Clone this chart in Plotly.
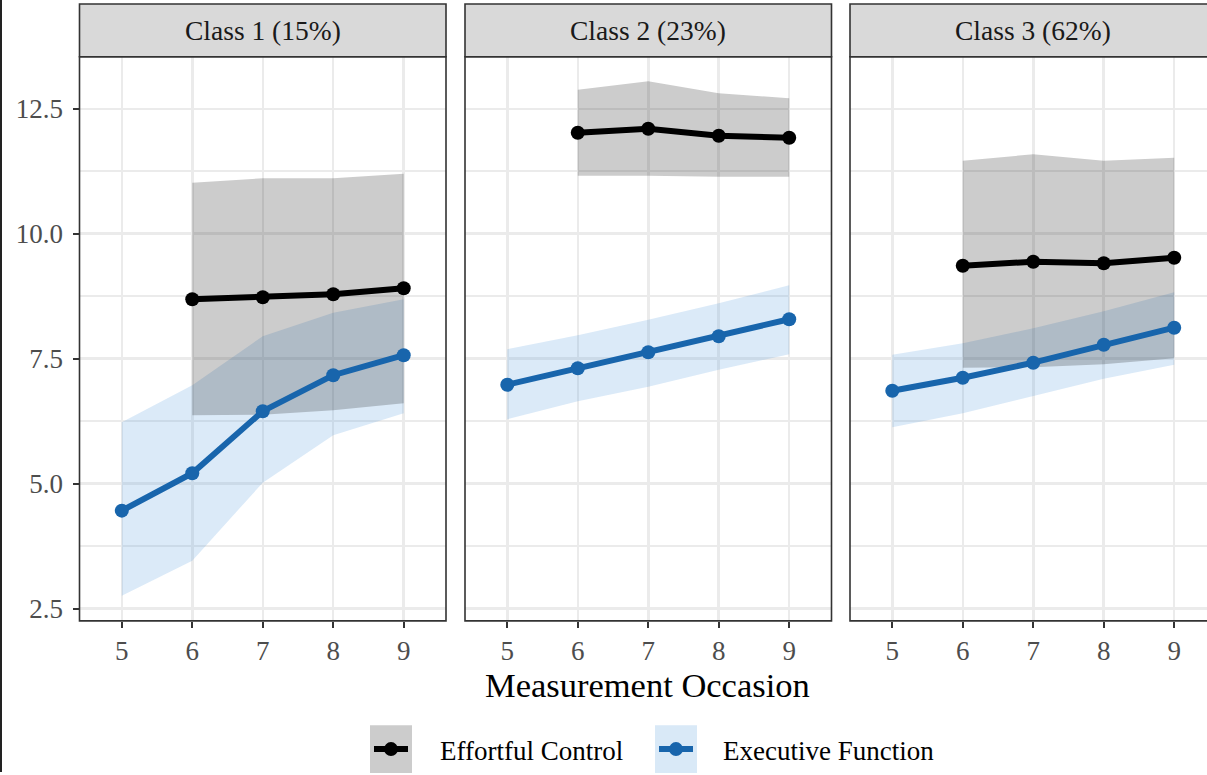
import plotly.graph_objects as go

# ---------------- data ----------------
occasions = [5, 6, 7, 8, 9]
ec_occasions = [6, 7, 8, 9]
classes = ["Class 1 (15%)", "Class 2 (23%)", "Class 3 (62%)"]
y_tick_vals = [2.5, 5.0, 7.5, 10.0, 12.5]
y_tick_text = ["2.5", "5.0", "7.5", "10.0", "12.5"]
x_tick_vals = [5, 6, 7, 8, 9]
series_names = ["Effortful Control", "Executive Function"]

# Effortful Control (occasions 6-9)
ec_mean_c1 = [8.69, 8.73, 8.79, 8.91]
ec_low_c1 = [6.37, 6.38, 6.47, 6.61]
ec_up_c1 = [11.02, 11.11, 11.11, 11.20]

ec_mean_c2 = [12.02, 12.10, 11.96, 11.92]
ec_low_c2 = [11.16, 11.16, 11.14, 11.14]
ec_up_c2 = [12.88, 13.05, 12.81, 12.71]

ec_mean_c3 = [9.36, 9.44, 9.41, 9.52]
ec_low_c3 = [7.32, 7.33, 7.39, 7.51]
ec_up_c3 = [11.46, 11.59, 11.46, 11.52]

# Executive Function (occasions 5-9)
ef_mean_c1 = [4.46, 5.21, 6.45, 7.17, 7.57]
ef_low_c1 = [2.76, 3.46, 5.02, 5.97, 6.41]
ef_up_c1 = [6.23, 6.97, 7.95, 8.42, 8.69]

ef_mean_c2 = [6.98, 7.31, 7.63, 7.95, 8.29]
ef_low_c2 = [6.29, 6.65, 6.94, 7.28, 7.59]
ef_up_c2 = [7.69, 7.97, 8.28, 8.61, 8.97]

ef_mean_c3 = [6.86, 7.12, 7.42, 7.78, 8.12]
ef_low_c3 = [6.13, 6.41, 6.75, 7.10, 7.38]
ef_up_c3 = [7.58, 7.81, 8.11, 8.45, 8.83]

ec_mean = [ec_mean_c1, ec_mean_c2, ec_mean_c3]
ec_low = [ec_low_c1, ec_low_c2, ec_low_c3]
ec_up = [ec_up_c1, ec_up_c2, ec_up_c3]
ef_mean = [ef_mean_c1, ef_mean_c2, ef_mean_c3]
ef_low = [ef_low_c1, ef_low_c2, ef_low_c3]
ef_up = [ef_up_c1, ef_up_c2, ef_up_c3]

# ---------------- styling ----------------
W, H = 1207, 775
FONT = "Liberation Serif"
EC_LINE = "#000000"
EF_LINE = "#1865AC"
EC_FILL = "rgba(0,0,0,0.2)"
EF_FILL = "rgba(76,152,218,0.2)"
GRID = "#EBEBEB"
BORDER = "#333333"


def fx(p):
    return p / W


def fy(p):
    return 1 - p / H


panel_px = [(79.5, 446.0), (465.0, 831.5), (850.0, 1207.0)]
px_per_unit = (446.0 - 79.5) / 5.2
x_ranges = [[4.4, 9.6], [4.4, 9.6], [4.4, 4.4 + (1207.0 - 850.0) / px_per_unit]]
panel_top, panel_bot = 57.0, 623.3
y_range = [2.255, 13.54]

fig = go.Figure()

for i in range(3):
    xa = "x" if i == 0 else f"x{i+1}"
    ya = "y" if i == 0 else f"y{i+1}"
    # ribbons
    fig.add_trace(go.Scatter(
        x=occasions + occasions[::-1], y=ef_up[i] + ef_low[i][::-1],
        fill="toself", fillcolor=EF_FILL, line=dict(width=0), mode="lines",
        hoverinfo="skip", showlegend=False, xaxis=xa, yaxis=ya))
    fig.add_trace(go.Scatter(
        x=ec_occasions + ec_occasions[::-1], y=ec_up[i] + ec_low[i][::-1],
        fill="toself", fillcolor=EC_FILL, line=dict(width=0), mode="lines",
        hoverinfo="skip", showlegend=False, xaxis=xa, yaxis=ya))
    # lines
    fig.add_trace(go.Scatter(
        x=ec_occasions, y=ec_mean[i], mode="lines+markers",
        line=dict(color=EC_LINE, width=6), marker=dict(color=EC_LINE, size=14),
        name=series_names[0], showlegend=False, xaxis=xa, yaxis=ya))
    fig.add_trace(go.Scatter(
        x=occasions, y=ef_mean[i], mode="lines+markers",
        line=dict(color=EF_LINE, width=6), marker=dict(color=EF_LINE, size=14),
        name=series_names[1], showlegend=False, xaxis=xa, yaxis=ya))

layout = dict(
    width=W, height=H, autosize=False,
    margin=dict(l=0, r=0, t=0, b=0),
    paper_bgcolor="white", plot_bgcolor="white",
    showlegend=False,
    font=dict(family=FONT, color="#4D4D4D"),
)

for i in range(3):
    sfx = "" if i == 0 else str(i + 1)
    x0, x1 = panel_px[i]
    layout["xaxis" + sfx] = dict(
        domain=[fx(x0), fx(x1)], range=x_ranges[i], anchor="y" + sfx,
        tickvals=x_tick_vals, ticks="outside", ticklen=6, tickwidth=2,
        tickcolor=BORDER, tickfont=dict(size=27, color="#4D4D4D", family=FONT),
        showgrid=True, gridcolor=GRID, gridwidth=2.5, zeroline=False,
        showline=False, fixedrange=True)
    layout["yaxis" + sfx] = dict(
        domain=[fy(panel_bot), fy(panel_top)], range=y_range, anchor="x" + sfx,
        tickvals=y_tick_vals, ticktext=y_tick_text,
        ticks="outside" if i == 0 else "", ticklen=6, tickwidth=2,
        tickcolor=BORDER, showticklabels=(i == 0), ticklabelstandoff=4,
        tickfont=dict(size=27, color="#4D4D4D", family=FONT),
        showgrid=True, gridcolor=GRID, gridwidth=2.5, zeroline=False,
        minor=dict(dtick=1.25, tick0=0, showgrid=True, gridcolor=GRID, gridwidth=1.6),
        showline=False, fixedrange=True)

shapes = []
annotations = []
for i in range(3):
    x0, x1 = panel_px[i]
    x1s = x1 if i < 2 else 1216.0
    # strip
    shapes.append(dict(type="rect", xref="paper", yref="paper",
                       x0=fx(x0), x1=fx(x1s), y0=fy(57.0), y1=fy(4.0),
                       fillcolor="#D9D9D9", line=dict(color=BORDER, width=1.6),
                       layer="above"))
    # panel border
    shapes.append(dict(type="rect", xref="paper", yref="paper",
                       x0=fx(x0), x1=fx(x1s), y0=fy(panel_bot), y1=fy(panel_top),
                       fillcolor="rgba(0,0,0,0)", line=dict(color=BORDER, width=1.6),
                       layer="above"))
    annotations.append(dict(text=classes[i], xref="paper", yref="paper",
                            x=fx((x0 + x1s) / 2), y=fy(30.5), showarrow=False,
                            xanchor="center", yanchor="middle",
                            font=dict(size=27.5, color="#1A1A1A", family=FONT)))

# thin dark frame line at the very left edge (as in the source image)
shapes.append(dict(type="line", xref="paper", yref="paper",
                   x0=fx(1.0), x1=fx(1.0), y0=0, y1=1,
                   line=dict(color="#222222", width=2), layer="above"))

# axis title
annotations.append(dict(text="Measurement Occasion", xref="paper", yref="paper",
                        x=fx(647.5), y=fy(688), showarrow=False,
                        xanchor="center", yanchor="middle",
                        font=dict(size=34.5, color="#000000", family=FONT)))

# legend (manual)
legend_items = [
    (370.0, "#CCCCCC", EC_LINE, series_names[0], 438.0),
    (655.0, "#D9E9F7", EF_LINE, series_names[1], 721.0),
]
ly = 752.0
for kx, kfill, kcol, label, tx in legend_items:
    shapes.append(dict(type="rect", xref="paper", yref="paper",
                       x0=fx(kx), x1=fx(kx + 42), y0=fy(776), y1=fy(728),
                       fillcolor=kfill, line=dict(width=0), layer="above"))
    shapes.append(dict(type="line", xref="paper", yref="paper",
                       x0=fx(kx + 4), x1=fx(kx + 38), y0=fy(ly), y1=fy(ly),
                       line=dict(color=kcol, width=6), layer="above"))
    shapes.append(dict(type="circle", xref="paper", yref="paper",
                       x0=fx(kx + 21 - 7), x1=fx(kx + 21 + 7),
                       y0=fy(ly + 7), y1=fy(ly - 7),
                       fillcolor=kcol, line=dict(width=0), layer="above"))
    annotations.append(dict(text=label, xref="paper", yref="paper",
                            x=fx(tx), y=fy(ly + 2), showarrow=False,
                            xanchor="left", yanchor="middle",
                            font=dict(size=27, color="#000000", family=FONT)))

layout["shapes"] = shapes
layout["annotations"] = annotations
fig.update_layout(**layout)

fig.write_html(
    "out.html",
    config={"displayModeBar": False, "staticPlot": True},
    post_script="document.body.style.margin='0';document.body.style.padding='0';"
                "document.documentElement.style.overflow='hidden';",
)
